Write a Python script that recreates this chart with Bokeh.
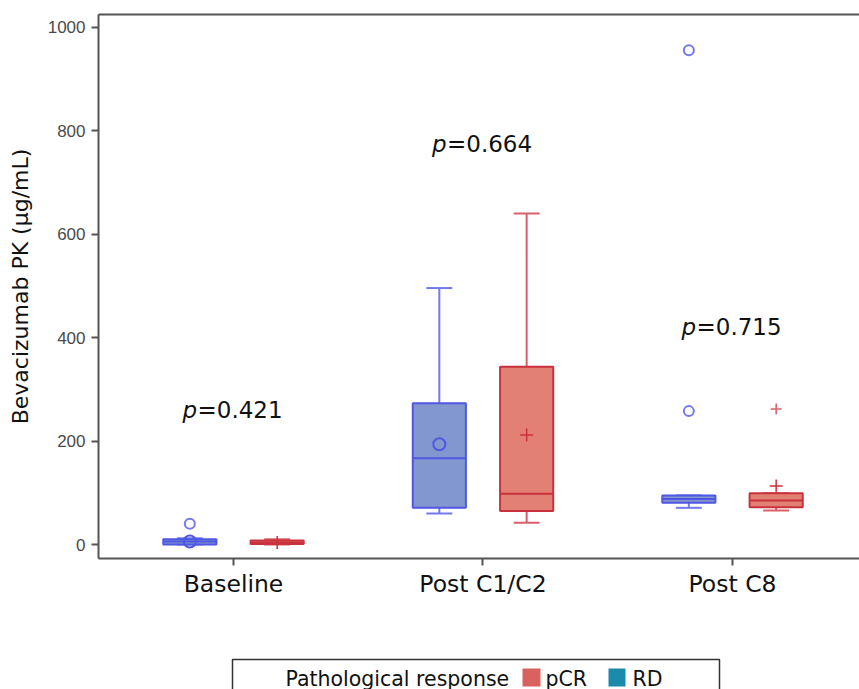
from bokeh.plotting import figure
from bokeh.models import LinearAxis, FixedTicker, Range1d
from bokeh.layouts import column
from bokeh.embed import file_html
from bokeh.resources import INLINE
from bokeh.core.properties import value

# ---------------- data ----------------
categories = ["Baseline", "Post C1/C2", "Post C8"]

# RD (blue boxes)
rd_low = [0, 60, 71]
rd_q1 = [0, 71, 81]
rd_median = [6, 167, 88]
rd_q3 = [10, 273, 95]
rd_high = [12, 496, 95]
rd_mean_cat = ["Baseline", "Post C1/C2"]
rd_mean = [6, 194]
rd_out_cat = ["Baseline", "Post C8", "Post C8"]
rd_out = [40, 956, 258]

# pCR (red boxes)
pcr_low = [0, 42, 66]
pcr_q1 = [1, 65, 72]
pcr_median = [4, 98, 85]
pcr_q3 = [8, 344, 99]
pcr_high = [10, 640, 99]
pcr_mean_cat = ["Baseline", "Post C1/C2", "Post C8"]
pcr_mean = [4, 212, 113]
pcr_out_cat = ["Post C8"]
pcr_out = [262]

p_values = ["0.421", "0.664", "0.715"]
p_label_y = [260, 775, 421]

y_ticks = [0, 200, 400, 600, 800, 1000]
legend_title = "Pathological response"
legend_labels = ["pCR", "RD"]

# ---------------- styles ----------------
RD_LINE, RD_FILL, RD_WHISK = "#4f57e3", "#7b91ca", "#7479ee"
PCR_LINE, PCR_FILL, PCR_WHISK = "#c9323c", "#e07a6c", "#d9606a"
LEG_PCR, LEG_RD = "#d9625e", "#1b8aab"
AX = "#555555"
FONT = "DejaVu Sans"

pos = {c: i + 1 for i, c in enumerate(categories)}
OFF = 0.175
BW = 0.213
CW = 0.104

W = 859
p = figure(width=W, height=600, x_range=Range1d(0.459, 3.509), y_range=Range1d(-27, 1025),
           output_backend="svg", toolbar_location=None,
           min_border_left=98, min_border_right=0, min_border_top=14, min_border_bottom=40)
p.outline_line_color = None
p.grid.visible = False
p.background_fill_color = "white"


def draw(off, low, q1, med, q3, high, line, fill, whisk):
    xs = [pos[c] + off for c in categories]
    p.segment(xs, q3, xs, high, line_color=whisk, line_width=2)
    p.segment(xs, low, xs, q1, line_color=whisk, line_width=2)
    p.segment([x - CW / 2 for x in xs], high, [x + CW / 2 for x in xs], high, line_color=whisk, line_width=2)
    p.segment([x - CW / 2 for x in xs], low, [x + CW / 2 for x in xs], low, line_color=whisk, line_width=2)
    p.vbar(x=xs, width=BW, bottom=q1, top=q3, fill_color=fill, fill_alpha=0.95,
           line_color=line, line_width=2)
    p.segment([x - BW / 2 for x in xs], med, [x + BW / 2 for x in xs], med, line_color=line, line_width=2)


draw(-OFF, rd_low, rd_q1, rd_median, rd_q3, rd_high, RD_LINE, RD_FILL, RD_WHISK)
draw(OFF, pcr_low, pcr_q1, pcr_median, pcr_q3, pcr_high, PCR_LINE, PCR_FILL, PCR_WHISK)

p.scatter([pos[c] - OFF for c in rd_mean_cat], rd_mean, marker="circle", size=12,
          fill_color=None, line_color=RD_LINE, line_width=2)
p.scatter([pos[c] - OFF for c in rd_out_cat], rd_out, marker="circle", size=10,
          fill_color=None, line_color=RD_WHISK, line_width=2)
p.scatter([pos[c] + OFF for c in pcr_mean_cat], pcr_mean, marker="cross", size=13,
          line_color=PCR_LINE, line_width=1.5)
p.scatter([pos[c] + OFF for c in pcr_out_cat], pcr_out, marker="cross", size=11,
          line_color=PCR_WHISK, line_width=1.5)

# p-value labels: italic "p" then "=value"
PFS = 23
xs_lab = [pos[c] for c in categories]
p.text(xs_lab, p_label_y, text=["p"] * 3, text_font=value(FONT), text_font_style="italic",
       text_font_size=f"{PFS}px", text_align="left", text_baseline="middle", x_offset=-51,
       text_color="#111111")
p.text(xs_lab, p_label_y, text=["=" + v for v in p_values], text_font=value(FONT),
       text_font_size=f"{PFS}px", text_align="left", text_baseline="middle", x_offset=-36,
       text_color="#111111")

# axes
p.yaxis.ticker = FixedTicker(ticks=y_ticks)
p.yaxis.axis_label = "Bevacizumab PK (\u03bcg/mL)"
p.yaxis.axis_label_text_font = FONT
p.yaxis.axis_label_text_font_style = "normal"
p.yaxis.axis_label_text_font_size = "22px"
p.yaxis.axis_label_text_color = "#111111"
p.yaxis.axis_label_standoff = 12
p.yaxis.major_label_text_font = "Liberation Sans"
p.yaxis.major_label_text_font_size = "17px"
p.yaxis.major_label_text_color = "#4a4a4a"
p.yaxis.major_label_standoff = 6

p.xaxis.ticker = FixedTicker(ticks=[pos[c] for c in categories])
p.xaxis.major_label_overrides = {pos[c]: c for c in categories}
p.xaxis.major_label_text_font = FONT
p.xaxis.major_label_text_font_size = "23.5px"
p.xaxis.major_label_text_color = "#111111"
p.xaxis.major_label_standoff = 4

for ax in (p.xaxis[0], p.yaxis[0]):
    ax.axis_line_color = AX
    ax.axis_line_width = 2
    ax.major_tick_line_color = AX
    ax.major_tick_line_width = 2
    ax.major_tick_out = 7
    ax.major_tick_in = 0
    ax.minor_tick_line_color = None

top = LinearAxis(ticker=FixedTicker(ticks=[]), axis_line_color=AX, axis_line_width=2,
                 major_tick_line_color=None, minor_tick_line_color=None,
                 major_label_standoff=0, major_label_text_font_size="0px")
p.add_layout(top, "above")

# ---------------- legend strip (x in page pixels) ----------------
LH = 89
lg = figure(width=W, height=LH, x_range=Range1d(98, W), y_range=Range1d(0, LH),
            output_backend="svg", toolbar_location=None,
            min_border_left=98, min_border_right=0, min_border_top=0, min_border_bottom=0)
lg.outline_line_color = None
lg.axis.visible = False
lg.grid.visible = False
lg.quad(left=[232], right=[719], bottom=[-5], top=[30], fill_color=None, line_color="#333333", line_width=1.5)
lg.text([285], [11], text=[legend_title], text_font=value(FONT), text_font_size="20.5px",
        text_baseline="middle", text_color="#111111")
lg.quad(left=[522, 608], right=[540, 625], bottom=[3, 3], top=[21, 21], fill_color=[LEG_PCR, LEG_RD],
        line_color=None)
lg.text([545, 632], [11, 11], text=legend_labels, text_font=value(FONT), text_font_size="20.5px",
        text_baseline="middle", text_color="#111111")

layout = column(p, lg, spacing=0)
open("out.html", "w").write(file_html(layout, INLINE))
